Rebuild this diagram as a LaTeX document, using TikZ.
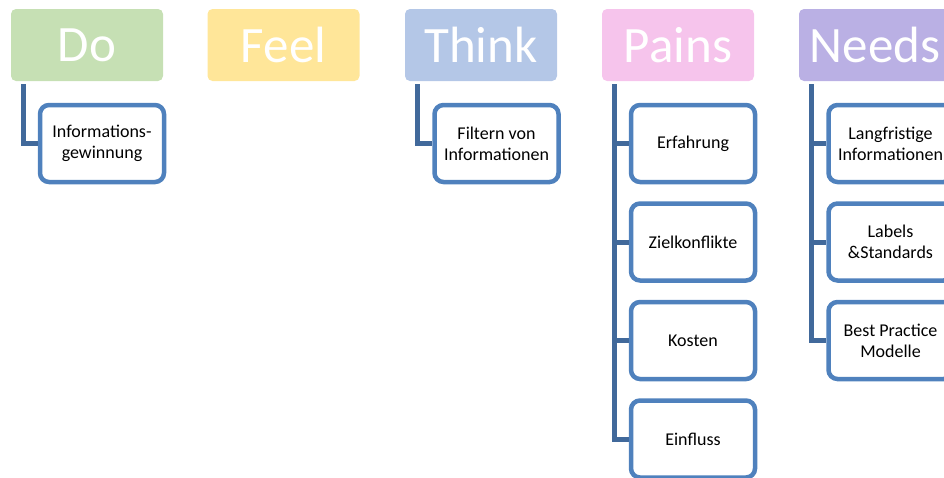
\documentclass[tikz,border=0pt]{standalone}
\usepackage{fontspec}
\setmainfont{Carlito}
\definecolor{hdo}{RGB}{198,224,180}
\definecolor{hfeel}{RGB}{255,230,153}
\definecolor{hthink}{RGB}{180,199,231}
\definecolor{hpains}{RGB}{246,196,236}
\definecolor{hneeds}{RGB}{186,176,228}
\definecolor{cborder}{RGB}{79,129,189}
\definecolor{cconn}{RGB}{65,105,155}
\begin{document}
\begin{tikzpicture}[x=1pt,y=-1pt,
  hdr/.style={rounded corners=5pt, minimum width=152pt, minimum height=72pt, inner sep=0pt,
    text=white, font=\fontsize{51}{60}\selectfont},
  child/.style={draw=cborder, line width=4.5pt, fill=white, rounded corners=9pt,
    minimum width=124pt, minimum height=77pt, inner sep=0pt, align=center,
    font=\fontsize{18}{21}\selectfont},
  conn/.style={draw=cconn, line width=5pt}]
\useasboundingbox (0,0) rectangle (944,477);
\clip (0,0) rectangle (944,477);
% headers
\node[hdr, fill=hdo] (do) at (87,45) {Do};
\node[hdr, fill=hfeel] (feel) at (283.5,45) {Feel};
\node[hdr, fill=hthink] (think) at (481,45) {Think};
\node[hdr, fill=hpains] (pains) at (678,45) {Pains};
\node[hdr, fill=hneeds] (needs) at (875,45) {Needs};
% connector anchors
\coordinate (tdo) at ([xshift=13pt,yshift=-3pt]do.south west);
\coordinate (tthink) at ([xshift=13pt,yshift=-3pt]think.south west);
\coordinate (tpains) at ([xshift=13pt,yshift=-3pt]pains.south west);
\coordinate (tneeds) at ([xshift=13pt,yshift=-3pt]needs.south west);
% children
\node[child] (c1) at (102,143.5) {Informations-\\gewinnung};
\node[child] (t1) at (496.5,143.5) {Filtern von\\Informationen};
\node[child] (p1) at (693,143.5) {Erfahrung};
\node[child] (p2) at (693,242) {Zielkonflikte};
\node[child] (p3) at (693,340.5) {Kosten};
\node[child] (p4) at (693,439) {Einfluss};
\node[child] (n1) at (890.5,143.5) {Langfristige\\Informationen};
\node[child] (n2) at (890.5,242) {Labels\\\&Standards};
\node[child] (n3) at (890.5,340.5) {Best Practice\\Modelle};
% connectors
\draw[conn] (tdo) |- (c1.west);
\draw[conn] (tthink) |- (t1.west);
\draw[conn] (tpains) |- (p1.west);
\draw[conn] (tpains) |- (p2.west);
\draw[conn] (tpains) |- (p3.west);
\draw[conn] (tpains) |- (p4.west);
\draw[conn] (tneeds) |- (n1.west);
\draw[conn] (tneeds) |- (n2.west);
\draw[conn] (tneeds) |- (n3.west);
\end{tikzpicture}
\end{document}
